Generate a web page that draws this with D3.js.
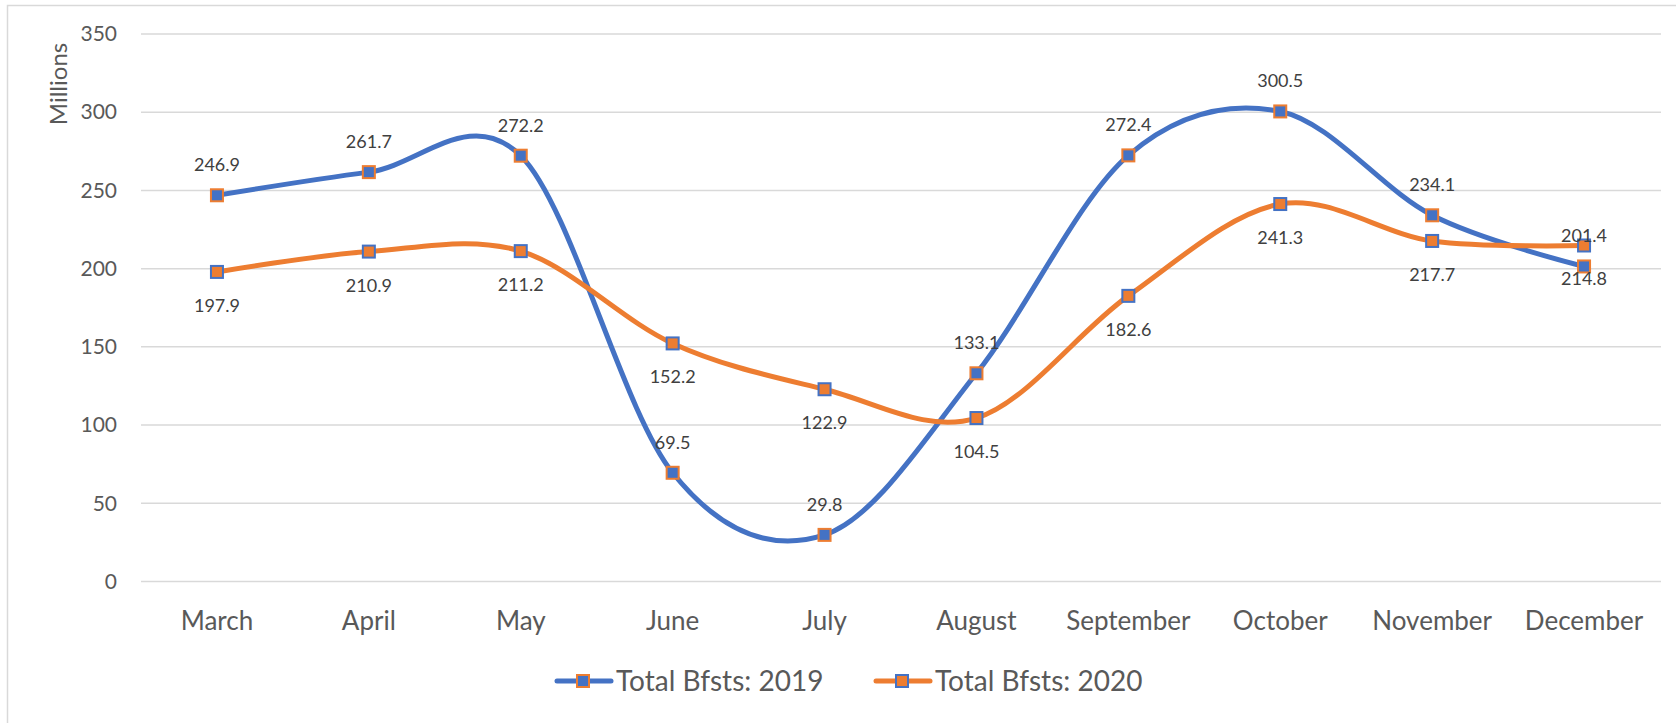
<!DOCTYPE html>
<html lang="en">
<head>
    <meta charset="UTF-8">
    <title>Total Bfsts 2019 vs 2020</title>
    <style>
        body {
            margin: 0;
            background: #fff;
            font-family: Lato, "Open Sans", sans-serif;
        }

        .grid line {
            stroke: #d9d9d9;
            stroke-width: 1.5px;
        }

        .axis text {
            fill: #595959;
        }

        .label {
            fill: #404040;
            font-size: 18px;
        }
    </style>
</head>

<body>
    <svg id="chart" width="1676" height="723"></svg>
    <script src="https://cdn.jsdelivr.net/npm/d3@7"></script>
    <script>
        var months = ["March", "April", "May", "June", "July", "August", "September", "October", "November", "December"];
        var bfsts2019 = [246.9, 261.7, 272.2, 69.5, 29.8, 133.1, 272.4, 300.5, 234.1, 201.4];
        var bfsts2020 = [197.9, 210.9, 211.2, 152.2, 122.9, 104.5, 182.6, 241.3, 217.7, 214.8];
        var yTicks = [0, 50, 100, 150, 200, 250, 300, 350];

        var blue = "#4472c4",
            orange = "#ed7d31";

        var series = [
            { name: "Total Bfsts: 2019", values: bfsts2019, color: blue, edge: orange, above: true },
            { name: "Total Bfsts: 2020", values: bfsts2020, color: orange, edge: blue, above: false }
        ];

        var svg = d3.select("#chart");

        // chart frame (cut off on the right and bottom in the original)
        svg.append("rect")
            .attr("x", 7.5)
            .attr("y", 5.5)
            .attr("width", 1700)
            .attr("height", 760)
            .attr("fill", "none")
            .attr("stroke", "#d9d9d9")
            .attr("stroke-width", 1.5);

        var x = d3.scaleBand().domain(months).range([141, 1660]);
        var y = d3.scaleLinear().domain([0, 350]).range([581.5, 34]);

        function cx(i) {
            return x(months[i]) + x.bandwidth() / 2;
        }

        // gridlines
        svg.append("g")
            .attr("class", "grid")
            .selectAll("line")
            .data(yTicks)
            .join("line")
            .attr("x1", 141)
            .attr("x2", 1661)
            .attr("y1", function (d) { return y(d); })
            .attr("y2", function (d) { return y(d); });

        // y axis
        var yAxis = svg.append("g")
            .attr("class", "axis")
            .attr("transform", "translate(141,0)")
            .call(d3.axisLeft(y).tickValues(yTicks).tickSize(0).tickPadding(24));
        yAxis.select(".domain").remove();
        yAxis.selectAll("text").style("font-size", "21px").style("font-family", "Lato");

        // x axis
        var xAxis = svg.append("g")
            .attr("class", "axis")
            .attr("transform", "translate(0,581.5)")
            .call(d3.axisBottom(x).tickSize(0).tickPadding(30));
        xAxis.select(".domain").remove();
        xAxis.selectAll("text").style("font-size", "26px").style("font-family", "Lato");

        svg.append("text")
            .attr("class", "axis")
            .attr("transform", "translate(67,84) rotate(-90)")
            .attr("text-anchor", "middle")
            .attr("fill", "#595959")
            .style("font-size", "24px")
            .text("Millions");

        // Excel style smoothed line
        var line = d3.line()
            .x(function (d, i) { return cx(i); })
            .y(function (d) { return y(d); })
            .curve(d3.curveCardinal.tension(0));

        series.forEach(function (s) {
            svg.append("path")
                .datum(s.values)
                .attr("fill", "none")
                .attr("stroke", s.color)
                .attr("stroke-width", 5)
                .attr("stroke-linejoin", "round")
                .attr("d", line);
        });

        series.forEach(function (s) {
            svg.append("g")
                .selectAll("rect")
                .data(s.values)
                .join("rect")
                .attr("x", function (d, i) { return cx(i) - 6; })
                .attr("y", function (d) { return y(d) - 6; })
                .attr("width", 12)
                .attr("height", 12)
                .attr("fill", s.color)
                .attr("stroke", s.edge)
                .attr("stroke-width", 2);
        });

        // data labels: 2019 above, 2020 below
        series.forEach(function (s) {
            svg.append("g")
                .selectAll("text")
                .data(s.values)
                .join("text")
                .attr("class", "label")
                .attr("x", function (d, i) { return cx(i); })
                .attr("y", function (d) { return s.above ? y(d) - 24 : y(d) + 40; })
                .attr("text-anchor", "middle")
                .text(function (d) { return d.toFixed(1); });
        });

        // legend
        var legendX = [555, 874];
        var legend = svg.append("g")
            .selectAll("g")
            .data(series)
            .join("g")
            .attr("transform", function (d, i) { return "translate(" + legendX[i] + ",681)"; });

        legend.append("line")
            .attr("x1", 2)
            .attr("x2", 56)
            .attr("stroke", function (d) { return d.color; })
            .attr("stroke-width", 5)
            .attr("stroke-linecap", "round");

        legend.append("rect")
            .attr("x", 22)
            .attr("y", -6)
            .attr("width", 12)
            .attr("height", 12)
            .attr("fill", function (d) { return d.color; })
            .attr("stroke", function (d) { return d.edge; })
            .attr("stroke-width", 2);

        legend.append("text")
            .attr("x", 61)
            .attr("y", 10)
            .attr("fill", "#595959")
            .style("font-size", "28px")
            .text(function (d) { return d.name; });
    </script>
</body>

</html>
